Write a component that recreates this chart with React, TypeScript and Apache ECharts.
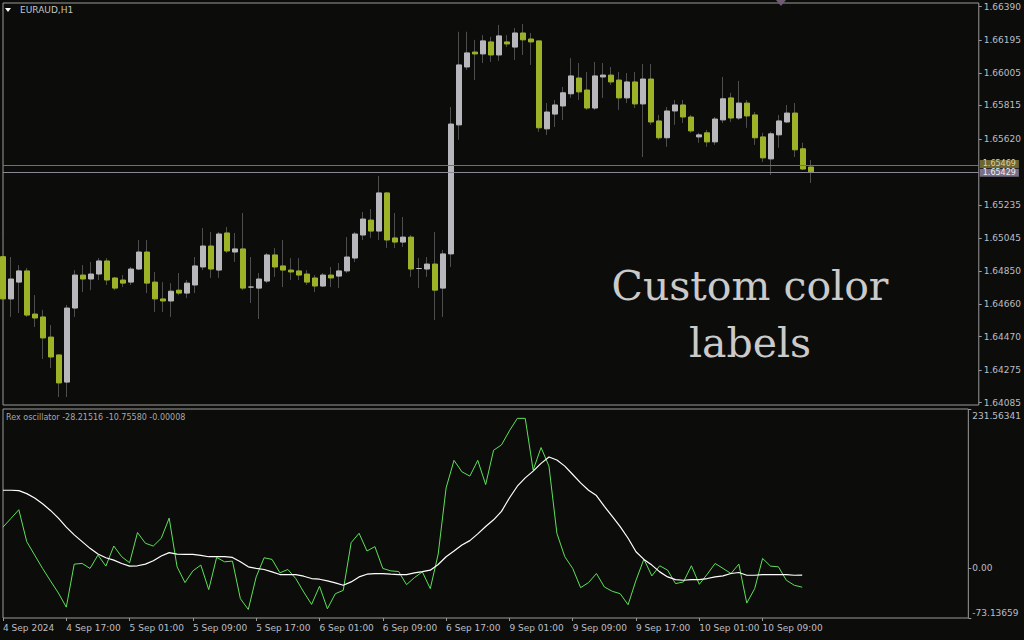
import React, { useEffect, useRef } from 'react';
import * as echarts from 'echarts';

// ---------- data ----------
const symbolTitle = 'EURAUD,H1';
const oscTitle = 'Rex oscillator -28.21516 -10.75580 -0.00008';
const overlayText = 'Custom color\nlabels';

// x-axis tick labels, one every 8 hourly bars
const timeTicks = [
  '4 Sep 2024', '4 Sep 17:00', '5 Sep 01:00', '5 Sep 09:00', '5 Sep 17:00',
  '6 Sep 01:00', '6 Sep 09:00', '6 Sep 17:00', '9 Sep 01:00', '9 Sep 09:00',
  '9 Sep 17:00', '10 Sep 01:00', '10 Sep 09:00',
];
const barsPerTick = 8;
const slotCount = 123; // visible bar slots (incl. empty right margin)

// price axis labels
const priceTicks = [1.6639, 1.66195, 1.66005, 1.65815, 1.6562, 1.65235, 1.65045, 1.6485, 1.6466, 1.6447, 1.64275, 1.64085];
const priceMin = 1.640716;
const priceMax = 1.664115;
const askPrice = 1.65469;
const bidPrice = 1.65429;

// oscillator axis labels
const oscMax = 231.56341;
const oscMin = -73.13659;
const oscTicks = [oscMax, 0, oscMin];

// candles: [open, close, low, high]
const candles = [
  [1.64935, 1.64689, 1.64665, 1.65044],
  [1.64689, 1.64805, 1.64584, 1.64933],
  [1.64787, 1.64852, 1.64607, 1.64886],
  [1.64852, 1.64595, 1.64584, 1.64869],
  [1.64601, 1.64578, 1.64526, 1.64711],
  [1.64584, 1.64462, 1.64339, 1.64625],
  [1.64467, 1.64351, 1.64287, 1.64537],
  [1.64363, 1.642, 1.64118, 1.64363],
  [1.64205, 1.64636, 1.64118, 1.64654],
  [1.64636, 1.64828, 1.64584, 1.64857],
  [1.64828, 1.64805, 1.64729, 1.64886],
  [1.64805, 1.64834, 1.6474, 1.64904],
  [1.64834, 1.6491, 1.64799, 1.64927],
  [1.6491, 1.64799, 1.6477, 1.64927],
  [1.64811, 1.64752, 1.6474, 1.64817],
  [1.64799, 1.64781, 1.64758, 1.64828],
  [1.64787, 1.64863, 1.6477, 1.64875],
  [1.64863, 1.64962, 1.64857, 1.65032],
  [1.64962, 1.64781, 1.64723, 1.65032],
  [1.64787, 1.64689, 1.64613, 1.64846],
  [1.64689, 1.64677, 1.64613, 1.64787],
  [1.64677, 1.64734, 1.64584, 1.64781],
  [1.6474, 1.64723, 1.64711, 1.6484],
  [1.64723, 1.64781, 1.64694, 1.64799],
  [1.6477, 1.64881, 1.64723, 1.64933],
  [1.64875, 1.64997, 1.64857, 1.65102],
  [1.64997, 1.64863, 1.64811, 1.65079],
  [1.64857, 1.65067, 1.64811, 1.65079],
  [1.65073, 1.64968, 1.64956, 1.65108],
  [1.64962, 1.6498, 1.64904, 1.65073],
  [1.6498, 1.64752, 1.6474, 1.65189],
  [1.64758, 1.64758, 1.64665, 1.64933],
  [1.64752, 1.64805, 1.64572, 1.6484],
  [1.64793, 1.64945, 1.64781, 1.64956],
  [1.64945, 1.64875, 1.64817, 1.64985],
  [1.64881, 1.64857, 1.64758, 1.65032],
  [1.64857, 1.64846, 1.64799, 1.64927],
  [1.64852, 1.64828, 1.64799, 1.64927],
  [1.64834, 1.64787, 1.6477, 1.64857],
  [1.64811, 1.64764, 1.64729, 1.64828],
  [1.64764, 1.64828, 1.64758, 1.6484],
  [1.64828, 1.64811, 1.64758, 1.64875],
  [1.64822, 1.64852, 1.64752, 1.64898],
  [1.64852, 1.64933, 1.6484, 1.65049],
  [1.64927, 1.65067, 1.64904, 1.65079],
  [1.65061, 1.65154, 1.65032, 1.65195],
  [1.65148, 1.65084, 1.65044, 1.65212],
  [1.65084, 1.65306, 1.65032, 1.65405],
  [1.65306, 1.65032, 1.64985, 1.65311],
  [1.65044, 1.6502, 1.64985, 1.65189],
  [1.6502, 1.65049, 1.64991, 1.65166],
  [1.65049, 1.64863, 1.64817, 1.65061],
  [1.64866, 1.64866, 1.64752, 1.64927],
  [1.64863, 1.64892, 1.64817, 1.64933],
  [1.64892, 1.6474, 1.64566, 1.65079],
  [1.64752, 1.64951, 1.64584, 1.64974],
  [1.64951, 1.65707, 1.64875, 1.65806],
  [1.65702, 1.66051, 1.65615, 1.66244],
  [1.66039, 1.66121, 1.66022, 1.66244],
  [1.66126, 1.66115, 1.65963, 1.66197],
  [1.66115, 1.66191, 1.66062, 1.66225],
  [1.66185, 1.66109, 1.66068, 1.66214],
  [1.66109, 1.6622, 1.66074, 1.66284],
  [1.66185, 1.66173, 1.66155, 1.66225],
  [1.66155, 1.66237, 1.6608, 1.66266],
  [1.66237, 1.66197, 1.66109, 1.66289],
  [1.66202, 1.66185, 1.66051, 1.66237],
  [1.66191, 1.65685, 1.65662, 1.66191],
  [1.65679, 1.65777, 1.65644, 1.65829],
  [1.65765, 1.65818, 1.6569, 1.65847],
  [1.65812, 1.65889, 1.65731, 1.65923],
  [1.65883, 1.65987, 1.65859, 1.66091],
  [1.65975, 1.65894, 1.65847, 1.66062],
  [1.65905, 1.658, 1.65789, 1.6601],
  [1.658, 1.65987, 1.65789, 1.66068],
  [1.65981, 1.65992, 1.65859, 1.66062],
  [1.65992, 1.65952, 1.65934, 1.66039],
  [1.65963, 1.65859, 1.65789, 1.6601],
  [1.65859, 1.65952, 1.65829, 1.66004],
  [1.65952, 1.65824, 1.658, 1.6601],
  [1.65824, 1.65969, 1.65515, 1.66057],
  [1.65969, 1.65719, 1.65702, 1.66057],
  [1.65725, 1.65627, 1.65615, 1.6576],
  [1.65627, 1.65783, 1.65574, 1.65806],
  [1.65783, 1.65818, 1.65702, 1.65847],
  [1.65818, 1.65748, 1.65713, 1.65847],
  [1.65748, 1.65667, 1.65656, 1.6576],
  [1.65632, 1.65644, 1.65598, 1.65656],
  [1.65656, 1.65603, 1.65574, 1.65673],
  [1.65603, 1.65736, 1.65586, 1.65748],
  [1.65731, 1.65854, 1.65713, 1.65981],
  [1.65859, 1.65742, 1.65719, 1.65889],
  [1.65742, 1.65829, 1.65731, 1.65958],
  [1.65829, 1.65754, 1.65685, 1.65847],
  [1.6576, 1.65627, 1.65586, 1.65777],
  [1.65632, 1.6551, 1.65486, 1.65656],
  [1.65504, 1.6565, 1.6541, 1.65662],
  [1.65644, 1.65725, 1.65569, 1.6576],
  [1.65719, 1.65771, 1.65713, 1.65818],
  [1.65771, 1.65557, 1.65515, 1.65829],
  [1.65563, 1.65445, 1.6544, 1.65598],
  [1.65457, 1.65429, 1.65364, 1.65498],
];

// Rex oscillator (green) and its signal line (white)
const rexValues = [
  59.3, 72, 84.7, 38.2, 18.6, -0.9, -19, -36.7, -57.3, 5.4,
  6.4, -0.9, 18.6, 2.5, 31.8, 16.2, 7.4, 51.4, 35.8, 31.8,
  43.1, 72.5, 1.5, -21.5, -4.4, 4.0, -31.8, 15.2, 8.8, 9.8,
  -45, -60.7, -13.2, 14.7, 12.3, -7.3, -2.4, -15.6, -35.2, -53.3,
  -26.9, -59.7, -37.7, -32.8, 36.7, 50.4, 24.5, 30.9, -0.9, -4.4,
  -5.4, -24.5, -14.2, -5.9, -30.3, 20.1, 116.5, 156.7, 140.0, 133.7,
  156.7, 121.4, 171.4, 179.2, 199.7, 217.9, 217.9, 142.5, 175.3, 148.3,
  50.4, 16.2, -0.9, -28.9, -21.5, -8.3, -27.9, -34.2, -37.7, -53.8,
  -18.1, 12.7, -11.7, 3.0, -3.4, -23, -20.5, 3.0, -24, -9.3,
  6.4, -0.9, -8.3, 5.4, -51.4, -30.3, 13.7, 2.5, 1.5, -18.1,
  -25.4, -28.2,
];
const signalValues = [
  113.1, 113.1, 112.6, 108.2, 101.8, 93.5, 83.7, 72.5, 59.3, 48,
  38.2, 28.4, 20.1, 14.7, 11.3, 6.4, 2.5, 3.0, 5.4, 10.3,
  17.2, 22.1, 20.1, 19.6, 19.6, 18.1, 16.2, 16.2, 16.2, 15.2,
  8.8, 1.5, -0.9, -2.4, -5.9, -9.8, -9.8, -9.8, -12.2, -15.6,
  -16.6, -19.1, -22.0, -25.4, -20.5, -13.2, -9.3, -8.3, -8.3, -9.3,
  -9.8, -9.8, -7.3, -5.4, -3.4, 4.9, 16.2, 24.5, 33.3, 39.7,
  49.5, 60.2, 70.0, 82.3, 101.8, 119, 131.2, 141, 152.3, 161.6,
  157.2, 148.3, 136.1, 123.9, 113.1, 105.3, 89.6, 74.9, 60.2, 43.1,
  23.5, 12.3, 4, -5.9, -13.2, -17.1, -18.1, -17.1, -17.1, -15.6,
  -13.2, -11.7, -8.3, -6.8, -10.8, -10.8, -9.8, -9.8, -9.8, -9.8,
  -10.8, -10.76,
];

// ---------- styles ----------
const BG = '#0c0d0b';
const FRAME = '#9a9a9a';
const LABEL = '#bdbdc3';
const UP = '#b8b8bc';
const DOWN = '#9db226';
const WICK = '#4e4e4e';
const FONT = 'DejaVu Sans';

export default function App() {
  const ref = useRef<HTMLDivElement>(null);

  useEffect(() => {
    if (!ref.current) return;
    const chart = echarts.init(ref.current, undefined, { renderer: 'svg' });

    const categories = Array.from({ length: slotCount }, (_, i) => String(i));
    const isTick = (idx: number) => idx % barsPerTick === 0 && idx / barsPerTick < timeTicks.length;

    const bodies = candles.map(([o, c]) => [o, c, Math.min(o, c), Math.max(o, c)]);

    const priceLabel = (bg: string, fg: string, dy: number) => ({
      show: true, position: 'end', distance: 1, color: fg, backgroundColor: bg,
      padding: [0, 3, 0, 3], fontSize: 8, lineHeight: 8, fontFamily: FONT, offset: [0, dy],
      formatter: (p: any) => Number(p.value).toFixed(5),
    });

    const option: any = {
      animation: false,
      backgroundColor: BG,
      grid: [
        { left: 3, right: 45, top: 3, height: 402, show: true, borderColor: FRAME, borderWidth: 1 },
        { left: 3, right: 45, top: 409, height: 209, show: true, borderColor: FRAME, borderWidth: 1 },
      ],
      xAxis: [
        {
          type: 'category', gridIndex: 0, data: categories, boundaryGap: false,
          axisLine: { show: false, onZero: false }, axisTick: { show: false }, axisLabel: { show: false }, splitLine: { show: false },
        },
        {
          type: 'category', gridIndex: 1, data: categories, boundaryGap: false, position: 'bottom',
          axisLine: { show: false, onZero: false },
          axisTick: { show: true, length: 3, interval: (idx: number) => isTick(idx), lineStyle: { color: FRAME } },
          axisLabel: {
            show: true, interval: (idx: number) => isTick(idx), align: 'left', margin: 5,
            color: LABEL, fontSize: 9, fontFamily: FONT,
            formatter: (_v: string, idx: number) => (isTick(idx) ? timeTicks[idx / barsPerTick] : ''),
          },
          splitLine: { show: false },
        },
      ],
      yAxis: [
        {
          type: 'value', gridIndex: 0, position: 'right', min: priceMin, max: priceMax,
          splitLine: { show: false }, axisLine: { show: false, onZero: false },
          axisTick: { show: true, length: 3, customValues: priceTicks, lineStyle: { color: FRAME } },
          axisLabel: {
            customValues: priceTicks, margin: 5, color: LABEL, fontSize: 9, fontFamily: FONT,
            formatter: (v: number) => v.toFixed(5),
          },
        },
        {
          type: 'value', gridIndex: 1, position: 'right', min: oscMin, max: oscMax,
          splitLine: { show: false }, axisLine: { show: false, onZero: false },
          axisTick: { show: true, length: 3, customValues: oscTicks, lineStyle: { color: FRAME } },
          axisLabel: {
            customValues: oscTicks, margin: 4, color: LABEL, fontSize: 9, fontFamily: FONT,
            formatter: (v: number) =>
              v === oscMax ? '{top|' + v.toFixed(5) + '}' : v === oscMin ? '{bot|' + v.toFixed(5) + '}' : v.toFixed(2),
            rich: {
              top: { padding: [14, 0, 0, 0], color: LABEL, fontSize: 9, fontFamily: FONT },
              bot: { padding: [0, 0, 10, 0], color: LABEL, fontSize: 9, fontFamily: FONT },
            },
          },
        },
      ],
      series: [
        {
          type: 'candlestick', xAxisIndex: 0, yAxisIndex: 0, data: candles, barWidth: 1,
          itemStyle: { color: WICK, color0: WICK, borderColor: WICK, borderColor0: WICK, borderWidth: 1 },
          silent: true,
        },
        {
          type: 'candlestick', xAxisIndex: 0, yAxisIndex: 0, data: bodies, barWidth: 6,
          itemStyle: { color: UP, color0: DOWN, borderColor: UP, borderColor0: DOWN, borderWidth: 1 },
          silent: true,
        },
        {
          type: 'line', xAxisIndex: 0, yAxisIndex: 0, data: [], silent: true,
          markLine: {
            silent: true, symbol: ['none', 'none'], animation: false, precision: 5,
            data: [
              { yAxis: askPrice, lineStyle: { color: '#77735a', width: 1, type: 'solid' }, label: priceLabel('#6e6632', '#d8d2a8', -1) },
              { yAxis: bidPrice, lineStyle: { color: '#8d8896', width: 1, type: 'solid' }, label: priceLabel('#7a7088', '#f0eef4', 1) },
            ],
          },
        },
        {
          type: 'line', xAxisIndex: 1, yAxisIndex: 1, data: rexValues, showSymbol: false,
          lineStyle: { color: '#5ee05a', width: 1 }, silent: true,
        },
        {
          type: 'line', xAxisIndex: 1, yAxisIndex: 1, data: signalValues, showSymbol: false,
          lineStyle: { color: '#ffffff', width: 1.2 }, silent: true,
        },
      ],
      graphic: [
        { type: 'polygon', shape: { points: [[5, 8], [11, 8], [8, 12]] }, style: { fill: '#ffffff' } },
        {
          type: 'text', x: 20, y: 10,
          style: { text: symbolTitle, fill: '#c4c4c4', fontSize: 9, fontFamily: FONT, textVerticalAlign: 'middle' },
        },
        {
          type: 'text', x: 6, y: 417,
          style: { text: oscTitle, fill: '#a8a8a8', fontSize: 8, fontFamily: FONT, textVerticalAlign: 'middle' },
        },
        { type: 'polygon', shape: { points: [[776, 0], [786, 0], [781, 6]] }, style: { fill: '#6f5c74' } },
        {
          type: 'text', x: 750, y: 314,
          style: {
            text: overlayText, fill: '#cacaca', fontSize: 41, fontFamily: 'DejaVu Serif',
            textAlign: 'center', textVerticalAlign: 'middle', lineHeight: 57,
          },
        },
      ],
    };

    chart.setOption(option);
    return () => chart.dispose();
  }, []);

  return (
    <div
      ref={ref}
      style={{ position: 'fixed', left: 0, top: 0, width: 1024, height: 640, background: BG }}
    />
  );
}
